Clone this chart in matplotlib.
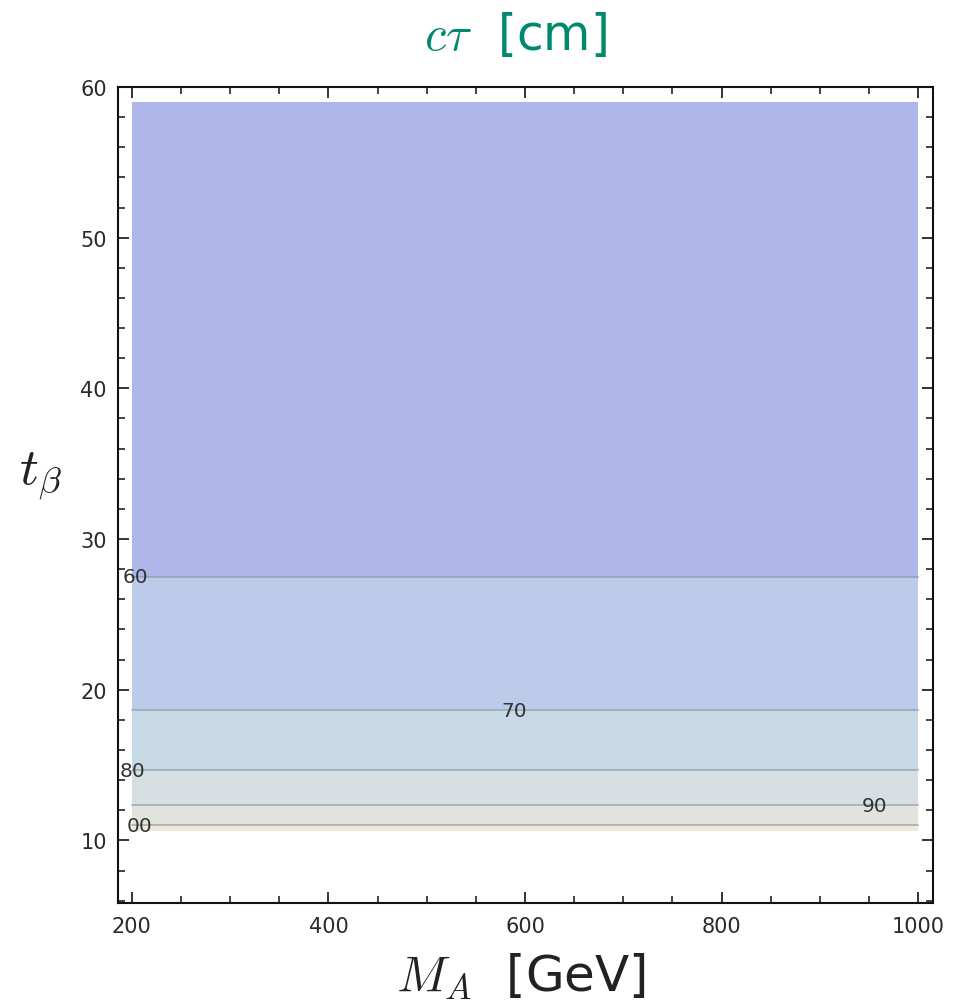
import matplotlib
matplotlib.use("Agg")
import matplotlib.pyplot as plt
from matplotlib.ticker import MultipleLocator

plt.rcParams['mathtext.fontset'] = 'cm'
plt.rcParams['font.family'] = ['DejaVu Sans']

# Data
x_range = [200, 1000]
tb_min, tb_max = 10.65, 59.0
levels = [60, 70, 80, 90, 100]
contour_tb = [27.5, 18.65, 14.65, 12.35, 11.0]
label_x = [204, 589, 201, 956, 208]
label_text = ["60", "70", "80", "90", "00"]
# band edges from top to bottom and their colours
band_edges = [tb_max] + contour_tb + [tb_min]
band_colors = ['#aeb5e8', '#bbcbe9', '#c8d9e6', '#d7dee2', '#e3e3dd', '#f0e8da']

fig = plt.figure(figsize=(9.58, 10.04), dpi=100)
ax = fig.add_axes([0.1232, 0.0996, 0.8507, 0.8128])

for i, c in enumerate(band_colors):
    ax.fill_between(x_range, band_edges[i + 1], band_edges[i], color=c, lw=0, zorder=1)

for tb in contour_tb:
    ax.plot(x_range, [tb, tb], color='#8e9aa6', lw=1.1, alpha=0.8, zorder=2)

for xl, tb, t in zip(label_x, contour_tb, label_text):
    ax.text(xl, tb, t, fontsize=14.5, color='#333333', ha='center', va='center', zorder=3)

ax.set_xlim(186, 1015)
ax.set_ylim(5.85, 60)

ax.xaxis.set_major_locator(MultipleLocator(200))
ax.xaxis.set_minor_locator(MultipleLocator(50))
ax.yaxis.set_major_locator(MultipleLocator(10))
ax.yaxis.set_minor_locator(MultipleLocator(2))
ax.tick_params(which='both', direction='in', top=True, right=True, color='#111111')
ax.tick_params(which='major', length=8, width=1.2, labelsize=15, labelcolor='#2a2a2a')
ax.tick_params(which='minor', length=5, width=1.1)
ax.tick_params(axis='x', pad=9)
ax.tick_params(axis='y', pad=8)
for s in ax.spines.values():
    s.set_linewidth(1.5)
    s.set_color('#111111')

fig.text(0.5386, 0.950, r'$c\tau$  [cm]', fontsize=35, color='#00896f', ha='center', va='baseline')
fig.text(0.5444, 0.013, r'$M_A$  [GeV]', fontsize=36, color='#222222', ha='center', va='baseline')
fig.text(0.02, 0.517, r'$t_\beta$', fontsize=38, color='#222222', ha='left', va='baseline')

fig.savefig('out.png', dpi=100)
